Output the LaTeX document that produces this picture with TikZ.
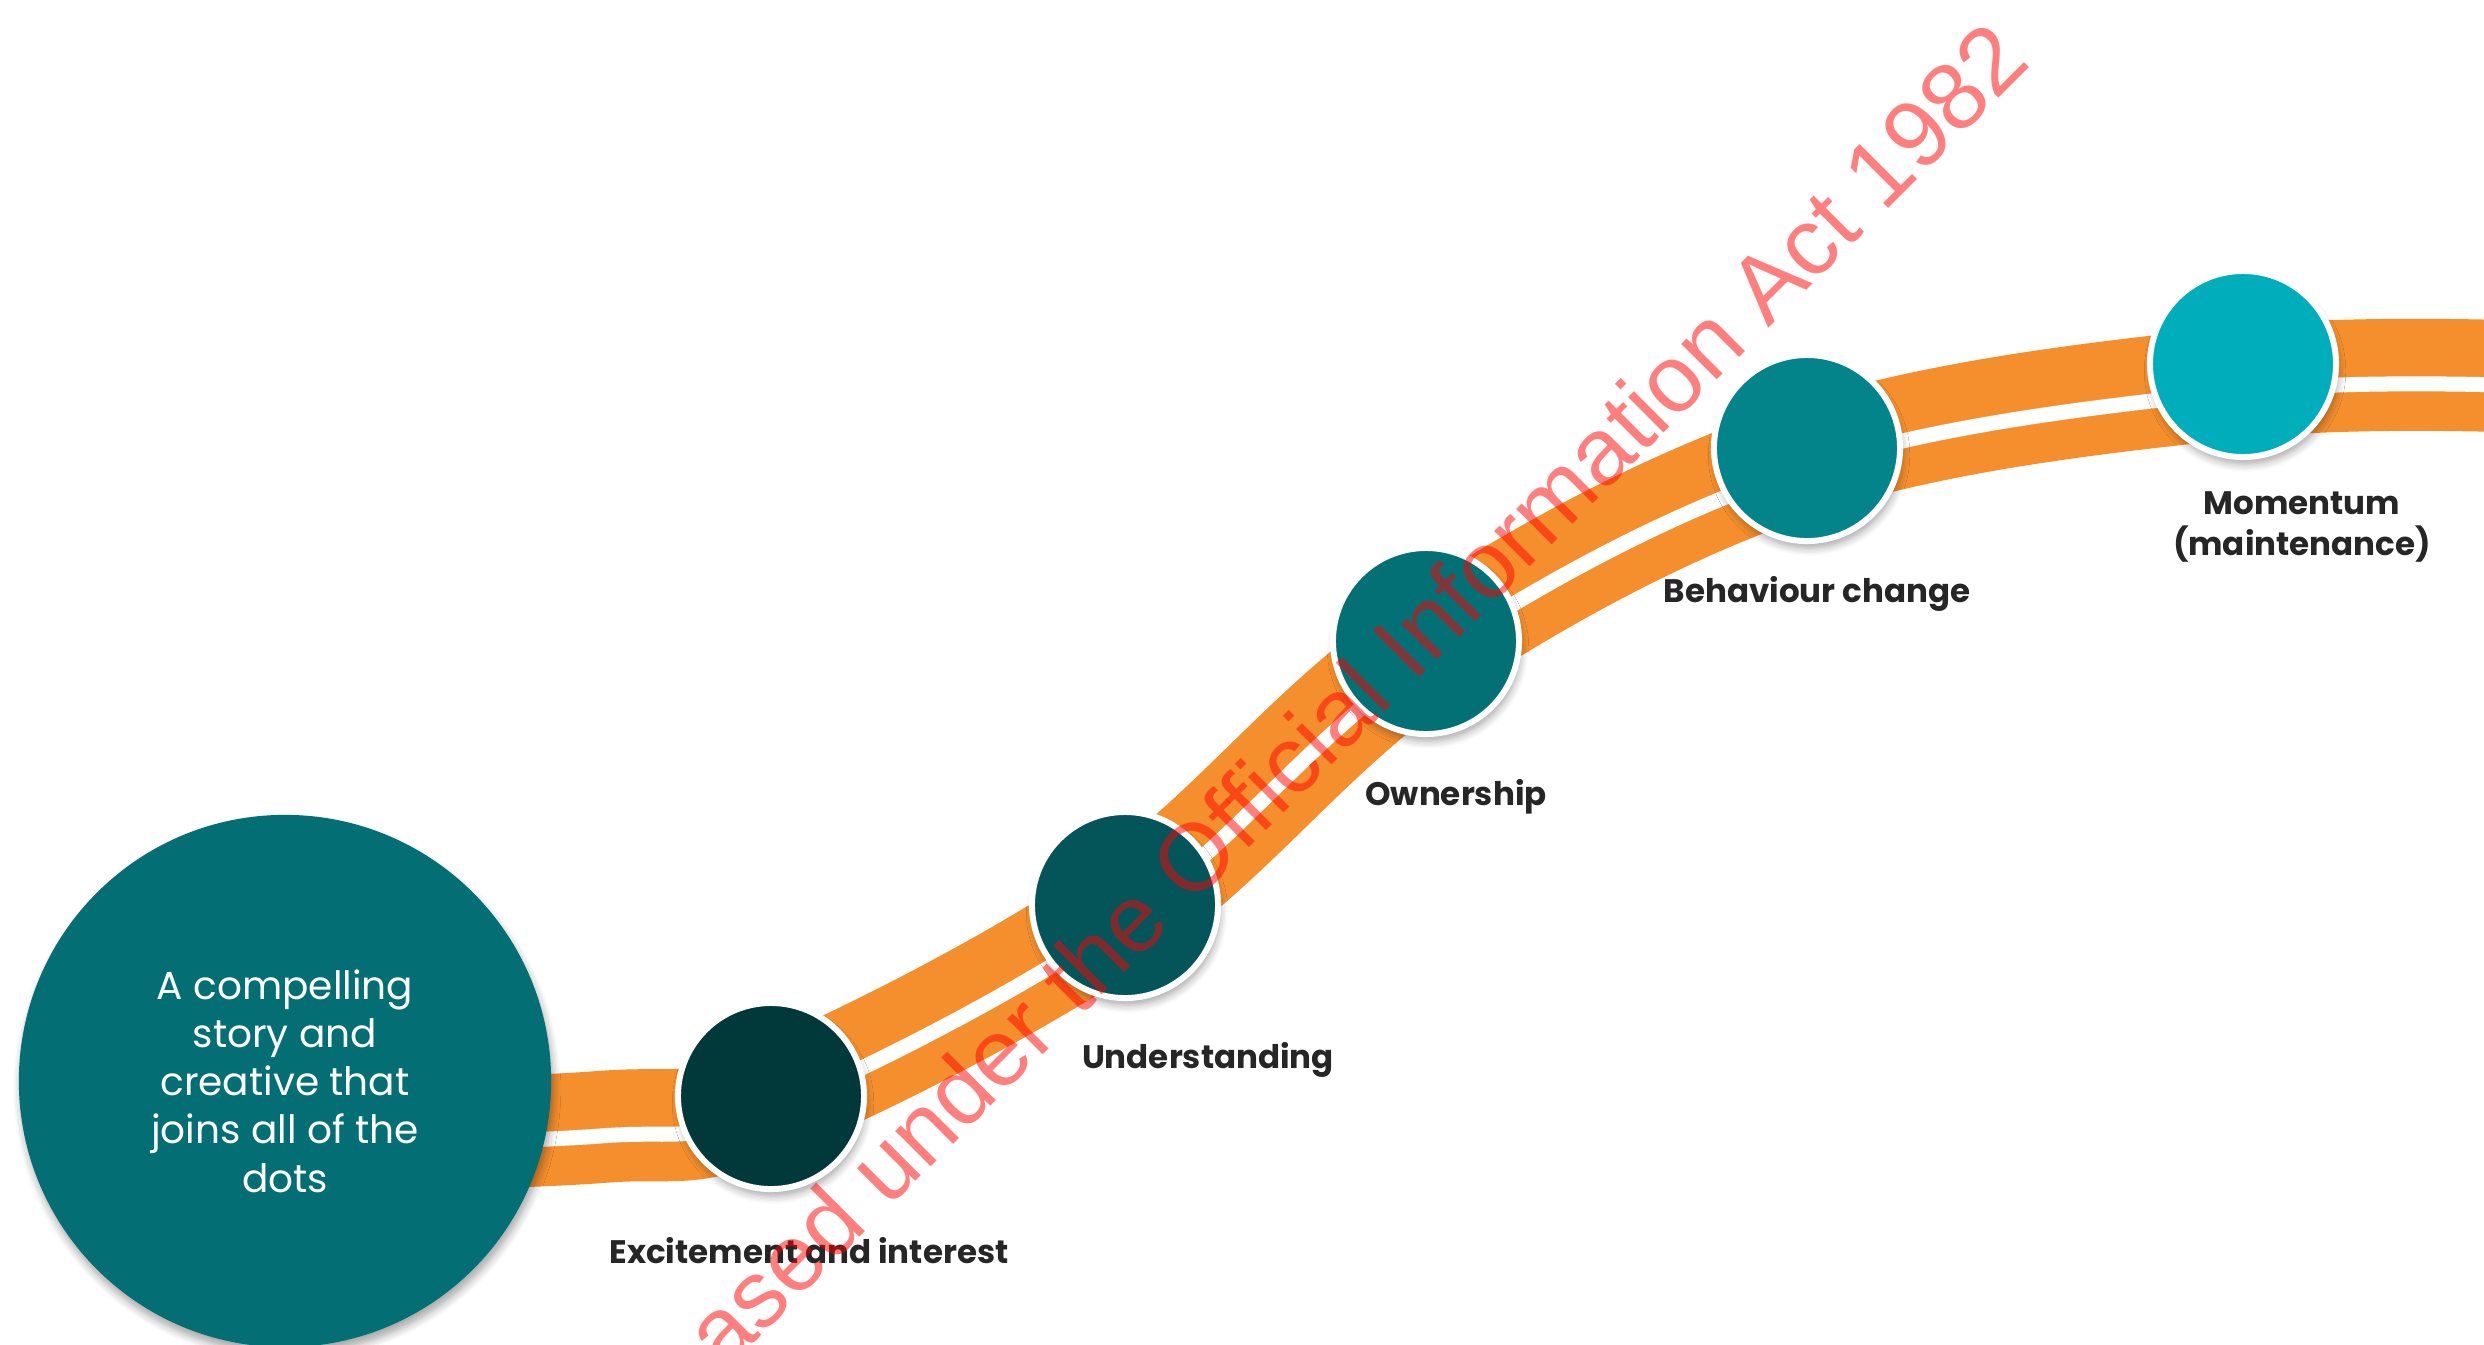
\documentclass[tikz,border=0pt]{standalone}
\usepackage{fontspec}
\setmainfont{Poppins}
\newfontfamily\stampfont{Liberation Sans}
\usetikzlibrary{shadows.blur}
\definecolor{bandorange}{HTML}{F58F2D}
\definecolor{storyteal}{HTML}{036F74}
\definecolor{excteal}{HTML}{01393B}
\definecolor{undteal}{HTML}{03555A}
\definecolor{ownteal}{HTML}{037075}
\definecolor{behteal}{HTML}{03848A}
\definecolor{momteal}{HTML}{00ADBB}
\definecolor{labelgray}{HTML}{262626}
\begin{document}
\begin{tikzpicture}[x=0.01cm, y=-0.01cm,
    dotshadow/.style={blur shadow={shadow xshift=0.02cm, shadow yshift=-0.07cm, shadow blur steps=6, shadow opacity=35}},
    stage/.style={circle, draw=white, line width=0.06cm, minimum size=1.86cm, inner sep=0pt, dotshadow},
    stagelabel/.style={font=\bfseries\fontsize{9.25}{11.7}\selectfont, text=labelgray, align=center}]
    \useasboundingbox (0,0) rectangle (2484,1344);
    \clip (0,0) rectangle (2484,1344);
    \draw[bandorange, line width=1.12cm]
        plot[smooth, tension=0.6] coordinates {(285,1138) (600,1127) (771,1100) (1125,910) (1426,650) (1807,458) (2243,382) (2560,378)};
    \draw[white, line width=0.15cm, yshift=-0.09cm]
        plot[smooth, tension=0.6] coordinates {(285,1138) (600,1127) (771,1100) (1125,910) (1426,650) (1807,458) (2243,382) (2560,378)};
    \node[circle, fill=storyteal, minimum size=5.32cm, inner sep=0pt, dotshadow,
        text=white, align=center, font=\fontsize{11.1}{13.7}\selectfont] (story) at (285,1081)
        {A compelling\\story and\\creative that\\joins all of the\\dots};
    \node[stage, fill=excteal] (exc) at (771,1096) {};
    \node[stage, fill=undteal] (und) at (1125,905) {};
    \node[stage, fill=ownteal] (own) at (1426,641) {};
    \node[stage, fill=behteal] (beh) at (1807,448) {};
    \node[stage, fill=momteal] (mom) at (2243,364) {};
    \node[stagelabel] (exclabel) at (809,1251) {Excitement and interest};
    \node[stagelabel] (undlabel) at (1208,1060) {Understanding};
    \node[stagelabel] (ownlabel) at (1456,797) {Ownership};
    \node[stagelabel] (behlabel) at (1817,594) {Behaviour change};
    \node[stagelabel] (momlabel) at (2302,527) {Momentum\\(maintenance)};
    \node[anchor=base west, rotate=45, inner sep=0pt, text=red, text opacity=0.5,
        font=\stampfont\fontsize{27}{30}\selectfont] (stamp) at (586,1511)
        {Released under the Official Information Act 1982};
\end{tikzpicture}
\end{document}
